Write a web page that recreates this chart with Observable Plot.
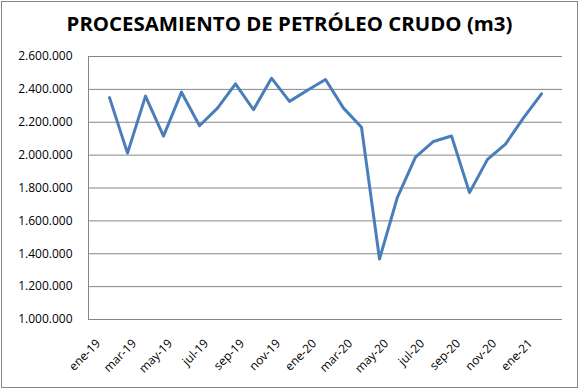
<!DOCTYPE html>
<html>
<head>
<meta charset="utf-8">
<script src="https://cdn.jsdelivr.net/npm/d3@7"></script>
<script src="https://cdn.jsdelivr.net/npm/@observablehq/plot@0.6"></script>
<style>
  html, body { margin: 0; padding: 0; background: #fff; }
  #wrap { position: relative; width: 579px; height: 389px; overflow: hidden; background: #fff; }
  #border { position: absolute; left: 1px; top: 1px; width: 575px; height: 385px; border: 1px solid #868686; pointer-events: none; }
  #title { position: absolute; left: 0; width: 579px; top: 13px; text-align: center; font-family: "Open Sans", "Liberation Sans", sans-serif; font-weight: bold; color: #000; white-space: nowrap; line-height: 1; }
  #chart { position: absolute; left: 0; top: 0; }
</style>
</head>
<body>
<div id="wrap">
  <div id="title">PROCESAMIENTO DE PETRÓLEO CRUDO (m3)</div>
  <div id="chart"></div>
  <div id="border"></div>
</div>
<script>
const months = ["ene-19","feb-19","mar-19","abr-19","may-19","jun-19","jul-19","ago-19","sep-19","oct-19","nov-19","dic-19",
                "ene-20","feb-20","mar-20","abr-20","may-20","jun-20","jul-20","ago-20","sep-20","oct-20","nov-20","dic-20","ene-21"];
const values = [2350000, 2012000, 2359000, 2116000, 2383000, 2179000, 2286000, 2434000, 2276000, 2468000, 2327000, 2395000,
                2460000, 2286000, 2169000, 1368000, 1745000, 1988000, 2083000, 2116000, 1772000, 1974000, 2067000, 2227000, 2373000];
const yTicks = [1000000, 1200000, 1400000, 1600000, 1800000, 2000000, 2200000, 2400000, 2600000];
const xTickLabels = ["ene-19","mar-19","may-19","jul-19","sep-19","nov-19","ene-20","mar-20","may-20","jul-20","sep-20","nov-20","ene-21"];

const data = months.map((m, i) => ({month: m, value: values[i]}));
const fmt = d3.formatLocale({decimal: ",", thousands: ".", grouping: [3], currency: ["", ""]}).format(",");

// fit title width
const titleEl = document.getElementById("title");
(function () {
  const c = document.createElement("canvas").getContext("2d");
  c.font = 'bold 20px "Open Sans"';
  const w = c.measureText(titleEl.textContent).width;
  titleEl.style.fontSize = (20 * 446 / w).toFixed(2) + "px";
})();

const chart = Plot.plot({
  width: 579,
  height: 389,
  marginLeft: 88,
  marginRight: 17,
  marginTop: 56,
  marginBottom: 70,
  style: {fontFamily: "'Open Sans', 'Liberation Sans', sans-serif", fontSize: "12px", color: "#000", background: "transparent"},
  x: {type: "point", domain: months, padding: 0.5},
  y: {domain: [1000000, 2600000]},
  marks: [
    Plot.gridY(yTicks, {stroke: "#868686", strokeOpacity: 1, strokeWidth: 1}),
    Plot.frame({anchor: "left", stroke: "#868686", strokeWidth: 1}),
    Plot.axisY(yTicks, {tickSize: 0, tickPadding: 16, tickFormat: fmt, label: null, fill: "#000", fontSize: 12}),
    Plot.axisX(xTickLabels, {tickSize: 0, tickPadding: 14, tickRotate: -45, dx: -11, dy: 8, label: null, fill: "#000", fontSize: 12}),
    Plot.line(data, {x: "month", y: "value", stroke: "#4a7ebb", strokeWidth: 3, strokeLinejoin: "round", strokeLinecap: "round"})
  ]
});
document.getElementById("chart").appendChild(chart);
</script>
</body>
</html>
